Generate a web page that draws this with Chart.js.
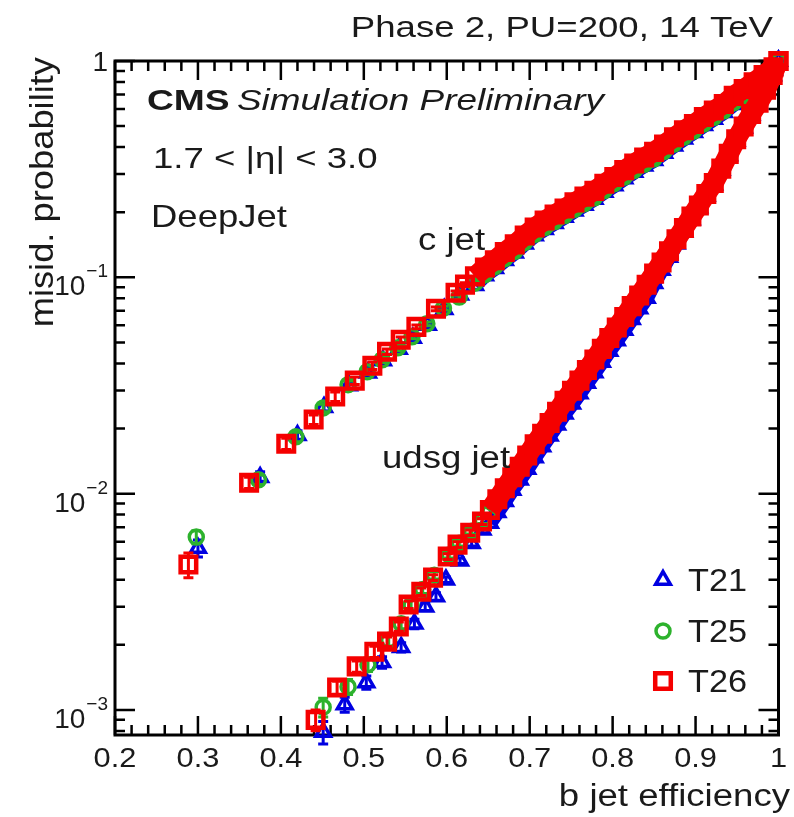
<!DOCTYPE html>
<html>
<head>
<title>b tag misid vs efficiency</title>
<script src="https://cdn.jsdelivr.net/npm/chart.js@4.4.0/dist/chart.umd.min.js"></script>
<style>
body { margin: 0; background: #fff; }
#wrap { width: 794px; height: 817px; }
</style>
</head>
<body>
<div id="wrap"><canvas id="roc" width="794" height="817"></canvas></div>
<script>
// axis ticks
const xTicks = [0.2, 0.3, 0.4, 0.5, 0.6, 0.7, 0.8, 0.9, 1.0];
const xTickLabels = ['0.2', '0.3', '0.4', '0.5', '0.6', '0.7', '0.8', '0.9', '1'];
const yTicks = [1e-3, 1e-2, 1e-1, 1];
const yTickExp = ['\u22123', '\u22122', '\u22121', ''];
const seriesNames = ['T21', 'T25', 'T26'];

// c jet - low efficiency points (with errors)
const cEff_T21 = [0.300, 0.375, 0.420, 0.452, 0.482, 0.505, 0.523, 0.542, 0.559, 0.577, 0.597, 0.616];
const cMis_T21 = [0.0056, 0.0119, 0.0186, 0.0251, 0.0316, 0.0362, 0.0412, 0.0466, 0.0524, 0.0602, 0.0712, 0.0830];
const cErr_T21 = [0.09, 0.06, 0.05, 0.04, 0.04, 0.03, 0.03, 0.03, 0.02, 0.02, 0.02, 0.02];
const cEff_T25 = [0.298, 0.373, 0.418, 0.451, 0.481, 0.504, 0.522, 0.541, 0.558, 0.576, 0.596, 0.615];
const cMis_T25 = [0.0063, 0.0116, 0.0183, 0.0249, 0.0319, 0.0366, 0.0416, 0.0472, 0.0531, 0.0610, 0.0720, 0.0810];
const cErr_T25 = [0.07, 0.05, 0.05, 0.04, 0.04, 0.03, 0.03, 0.03, 0.02, 0.02, 0.02, 0.02];
const cEff_T26 = [0.2885, 0.3617, 0.4065, 0.4395, 0.4655, 0.4891, 0.5103, 0.5280, 0.5445, 0.5634, 0.5870, 0.6106, 0.6220];
const cMis_T26 = [0.0047, 0.01124, 0.0170, 0.0220, 0.0281, 0.0333, 0.0390, 0.0453, 0.0514, 0.0590, 0.0715, 0.0848, 0.0925];
const cErr_T26 = [0.13, 0.06, 0.06, 0.05, 0.05, 0.04, 0.04, 0.03, 0.03, 0.02, 0.02, 0.02, 0.02];

// c jet - dense part
const cEffDense = [0.634, 0.646, 0.658, 0.670, 0.682, 0.694, 0.706, 0.718, 0.730, 0.742, 0.754, 0.766, 0.778, 0.790, 0.802, 0.814,
                   0.826, 0.838, 0.850, 0.862, 0.874, 0.886, 0.898, 0.910, 0.922, 0.934, 0.946, 0.958, 0.970, 0.982, 0.994, 1.000];
const cDense_T21 = [0.092, 0.102, 0.110, 0.120, 0.130, 0.143, 0.156, 0.167, 0.178, 0.190, 0.203, 0.216, 0.230, 0.248, 0.266, 0.286,
                    0.307, 0.328, 0.348, 0.376, 0.406, 0.437, 0.468, 0.504, 0.540, 0.579, 0.631, 0.679, 0.740, 0.820, 0.910, 1.0];
const cDense_T25 = [0.094, 0.103, 0.112, 0.122, 0.132, 0.145, 0.158, 0.170, 0.181, 0.193, 0.206, 0.219, 0.233, 0.252, 0.271, 0.291,
                    0.312, 0.333, 0.353, 0.382, 0.413, 0.445, 0.475, 0.512, 0.549, 0.589, 0.642, 0.690, 0.750, 0.830, 0.920, 1.0];
const cDense_T26 = [0.101, 0.111, 0.120, 0.131, 0.142, 0.156, 0.170, 0.183, 0.195, 0.208, 0.222, 0.236, 0.251, 0.271, 0.291, 0.313,
                    0.336, 0.358, 0.380, 0.411, 0.444, 0.478, 0.511, 0.551, 0.590, 0.633, 0.690, 0.742, 0.797, 0.862, 0.935, 1.0];

// udsg jet - low efficiency points (with errors)
const uEff_T21 = [0.451, 0.477, 0.503, 0.522, 0.545, 0.561, 0.574, 0.587, 0.599, 0.616, 0.630, 0.643];
const uMis_T21 = [0.00079, 0.00106, 0.00134, 0.00166, 0.00195, 0.00250, 0.00300, 0.00335, 0.00400, 0.00490, 0.00590, 0.00680];
const uErr_T21 = [0.12, 0.08, 0.07, 0.06, 0.05, 0.05, 0.04, 0.04, 0.03, 0.03, 0.03, 0.03];
const uEff_T25 = [0.451, 0.481, 0.505, 0.530, 0.545, 0.557, 0.571, 0.585, 0.603, 0.615, 0.630, 0.643];
const uMis_T25 = [0.00103, 0.00128, 0.00162, 0.00210, 0.00250, 0.00305, 0.00360, 0.00420, 0.00520, 0.00590, 0.00670, 0.00750];
const uErr_T25 = [0.10, 0.08, 0.07, 0.06, 0.05, 0.05, 0.04, 0.04, 0.03, 0.03, 0.03, 0.03];
const uEff_T26 = [0.4419, 0.4678, 0.4914, 0.5127, 0.5280, 0.5422, 0.5540, 0.5693, 0.5835, 0.6012, 0.6130, 0.6283, 0.6425];
const uMis_T26 = [0.00090, 0.00127, 0.00159, 0.00186, 0.00207, 0.00243, 0.00307, 0.00352, 0.00409, 0.00512, 0.00581, 0.00660, 0.00743];
const uErr_T26 = [0.11, 0.07, 0.06, 0.06, 0.05, 0.05, 0.04, 0.04, 0.03, 0.03, 0.03, 0.03, 0.03];

// udsg jet - dense part
const uEffDense = [0.652, 0.661, 0.670, 0.679, 0.688, 0.697, 0.706, 0.715, 0.724, 0.733, 0.742, 0.751, 0.760, 0.769, 0.778, 0.787,
                   0.796, 0.805, 0.814, 0.823, 0.832, 0.841, 0.850, 0.859, 0.868, 0.877, 0.886, 0.895, 0.904, 0.913, 0.922, 0.931,
                   0.940, 0.949, 0.958, 0.967, 0.976, 0.985, 0.993, 1.000];
const uDense_T21 = [0.00732, 0.00820, 0.00922, 0.0104, 0.0116, 0.0130, 0.0147, 0.0165, 0.0185, 0.0208, 0.0234, 0.0260, 0.0290, 0.0325, 0.0363, 0.0406,
                    0.0456, 0.0510, 0.0571, 0.0640, 0.0717, 0.0803, 0.094, 0.108, 0.124, 0.143, 0.163, 0.185, 0.210, 0.238, 0.268, 0.313,
                    0.366, 0.428, 0.492, 0.564, 0.636, 0.732, 0.858, 1.0];
const uDense_T25 = [0.00825, 0.00925, 0.0104, 0.0117, 0.0131, 0.0147, 0.0166, 0.0185, 0.0208, 0.0234, 0.0264, 0.0293, 0.0327, 0.0366, 0.0409, 0.0458,
                    0.0514, 0.0574, 0.0643, 0.0721, 0.0808, 0.0905, 0.102, 0.115, 0.129, 0.147, 0.166, 0.187, 0.211, 0.238, 0.268, 0.312,
                    0.365, 0.427, 0.490, 0.561, 0.634, 0.730, 0.856, 1.0];
const uDense_T26 = [0.00841, 0.00942, 0.0106, 0.0119, 0.0133, 0.0150, 0.0169, 0.0189, 0.0212, 0.0239, 0.0269, 0.0299, 0.0333, 0.0373, 0.0417, 0.0467,
                    0.0524, 0.0586, 0.0656, 0.0736, 0.0824, 0.0923, 0.104, 0.117, 0.132, 0.150, 0.169, 0.191, 0.215, 0.243, 0.273, 0.318,
                    0.372, 0.435, 0.498, 0.569, 0.641, 0.736, 0.861, 1.0];

const style = {
  T21: { color: 'rgb(0,0,225)', shape: 'triangle', r: 8.5, bw: 3.5, band: 15, order: 3 },
  T25: { color: 'rgb(45,178,45)', shape: 'circle', r: 7, bw: 3.5, band: 15, order: 2 },
  T26: { color: 'rgb(245,0,0)', shape: 'rect', r: 11, bw: 4.5, band: 20, order: 1 }
};

function pts(eff, mis) {
  return eff.map((e, i) => ({ x: e, y: mis[i] }));
}

// sparse points are drawn as markers only, the dense tail is joined by a thick band
function mkSet(name, label, eff, mis, err, nSparse) {
  const s = style[name];
  return {
    label: label,
    data: pts(eff, mis),
    errors: err,
    order: s.order,
    showLine: true,
    borderWidth: s.band,
    borderColor: s.color,
    segment: {
      borderColor: c => (c.p0DataIndex >= nSparse ? s.color : 'rgba(0,0,0,0)')
    },
    clip: false,
    pointStyle: s.shape,
    pointRadius: s.r,
    pointBorderWidth: s.bw,
    pointBorderColor: s.color,
    pointBackgroundColor: 'rgba(0,0,0,0)'
  };
}

const datasets = [
  mkSet('T26', 'T26 c', cEff_T26.concat(cEffDense), cMis_T26.concat(cDense_T26), cErr_T26, cEff_T26.length),
  mkSet('T26', 'T26 udsg', uEff_T26.concat(uEffDense), uMis_T26.concat(uDense_T26), uErr_T26, uEff_T26.length),
  mkSet('T25', 'T25 c', cEff_T25.concat(cEffDense), cMis_T25.concat(cDense_T25), cErr_T25, cEff_T25.length),
  mkSet('T25', 'T25 udsg', uEff_T25.concat(uEffDense), uMis_T25.concat(uDense_T25), uErr_T25, uEff_T25.length),
  mkSet('T21', 'T21 c', cEff_T21.concat(cEffDense), cMis_T21.concat(cDense_T21), cErr_T21, cEff_T21.length),
  mkSet('T21', 'T21 udsg', uEff_T21.concat(uEffDense), uMis_T21.concat(uDense_T21), uErr_T21, uEff_T21.length)
];

const FONT = '"Liberation Sans", Arial, Helvetica, sans-serif';
const INK = '#1a1a1a';

function txt(ctx, s, x, y, font, align, sx) {
  ctx.save();
  ctx.font = font;
  ctx.fillStyle = INK;
  ctx.textAlign = align || 'left';
  ctx.textBaseline = 'alphabetic';
  ctx.translate(x, y);
  ctx.scale(sx || 1, 1);
  ctx.fillText(s, 0, 0);
  ctx.restore();
}

function marker(ctx, name, x, y) {
  const s = style[name];
  ctx.save();
  ctx.strokeStyle = s.color;
  ctx.lineWidth = s.bw;
  ctx.beginPath();
  if (s.shape === 'rect') {
    const h = s.r * Math.SQRT1_2;
    ctx.rect(x - h, y - h, 2 * h, 2 * h);
  } else if (s.shape === 'circle') {
    ctx.arc(x, y, s.r, 0, Math.PI * 2);
  } else {
    ctx.moveTo(x, y - s.r);
    ctx.lineTo(x + 0.866 * s.r, y + 0.5 * s.r);
    ctx.lineTo(x - 0.866 * s.r, y + 0.5 * s.r);
    ctx.closePath();
  }
  ctx.stroke();
  ctx.restore();
}

const deco = {
  id: 'deco',
  beforeDatasetsDraw(chart) {
    const ctx = chart.ctx, a = chart.chartArea;
    const xs = chart.scales.x, ys = chart.scales.y;
    ctx.save();
    ctx.strokeStyle = '#000';
    // x ticks, bottom and top, pointing inward
    ctx.lineWidth = 2.5;
    for (let i = 0; i <= 40; i++) {
      const px = xs.getPixelForValue(0.2 + i * 0.02);
      const len = i % 5 === 0 ? 19 : 10;
      ctx.beginPath();
      ctx.moveTo(px, a.bottom); ctx.lineTo(px, a.bottom - len);
      ctx.moveTo(px, a.top); ctx.lineTo(px, a.top + len);
      ctx.stroke();
    }
    // y ticks, left and right
    for (let d = -4; d <= 0; d++) {
      for (let m = 1; m <= 9; m++) {
        const v = m * Math.pow(10, d);
        if (v < ys.min || v > ys.max * 1.0001) continue;
        const py = ys.getPixelForValue(v);
        const len = m === 1 ? 20 : 10;
        ctx.beginPath();
        ctx.moveTo(a.left, py); ctx.lineTo(a.left + len, py);
        ctx.moveTo(a.right, py); ctx.lineTo(a.right - len, py);
        ctx.stroke();
      }
    }
    ctx.lineWidth = 3;
    ctx.strokeRect(a.left, a.top, a.right - a.left, a.bottom - a.top);
    ctx.restore();
  },
  beforeDatasetDraw(chart, args) {
    const ds = chart.data.datasets[args.index];
    const err = ds.errors || [];
    const ctx = chart.ctx, ys = chart.scales.y;
    ctx.save();
    ctx.strokeStyle = ds.pointBorderColor;
    ctx.lineWidth = 3;
    err.forEach((e, i) => {
      const p = args.meta.data[i];
      const v = ds.data[i].y;
      const y1 = ys.getPixelForValue(v * (1 + e));
      const y2 = ys.getPixelForValue(v * (1 - e));
      ctx.beginPath();
      ctx.moveTo(p.x, y1); ctx.lineTo(p.x, y2);
      ctx.moveTo(p.x - 5, y1); ctx.lineTo(p.x + 5, y1);
      ctx.moveTo(p.x - 5, y2); ctx.lineTo(p.x + 5, y2);
      ctx.stroke();
    });
    ctx.restore();
  },
  afterDraw(chart) {
    const ctx = chart.ctx;
    const xs = chart.scales.x, ys = chart.scales.y;
    // x tick labels
    xTicks.forEach((v, i) => {
      txt(ctx, xTickLabels[i], xs.getPixelForValue(v), 767, '28px ' + FONT, 'center', 1.1);
    });
    // y tick labels with superscript exponent
    yTicks.forEach((v, i) => {
      const py = ys.getPixelForValue(v);
      if (!yTickExp[i]) {
        txt(ctx, '1', 108, py + 10, '28px ' + FONT, 'right');
        return;
      }
      ctx.font = '19px ' + FONT;
      const w = ctx.measureText(yTickExp[i]).width;
      txt(ctx, yTickExp[i], 108, py, '19px ' + FONT, 'right');
      txt(ctx, '10', 107 - w, py + 18, '28px ' + FONT, 'right');
    });
    // axis titles
    txt(ctx, 'b jet efficiency', 790, 806, '31px ' + FONT, 'right', 1.18);
    ctx.save();
    ctx.translate(53, 57);
    ctx.rotate(-Math.PI / 2);
    txt(ctx, 'misid. probability', 0, 0, '33px ' + FONT, 'right', 1.1);
    ctx.restore();
    // labels
    txt(ctx, 'Phase 2, PU=200, 14 TeV', 773, 37, '30px ' + FONT, 'right', 1.22);
    txt(ctx, 'CMS', 147, 110, 'bold 30px ' + FONT, 'left', 1.24);
    txt(ctx, 'Simulation Preliminary', 237, 110, 'italic 30px ' + FONT, 'left', 1.23);
    txt(ctx, '1.7 < |\u03b7| < 3.0', 153, 168, '30px ' + FONT, 'left', 1.22);
    txt(ctx, 'DeepJet', 151, 227, '32px ' + FONT, 'left', 1.14);
    txt(ctx, 'c jet', 418, 250, '31px ' + FONT, 'left', 1.18);
    txt(ctx, 'udsg jet', 382, 468, '31px ' + FONT, 'left', 1.18);
    // legend
    const legY = [580, 631, 681];
    seriesNames.forEach((n, i) => {
      marker(ctx, n, 663, legY[i]);
      txt(ctx, n, 688, legY[i] + 11, '32px ' + FONT, 'left', 1.07);
    });
  }
};

new Chart(document.getElementById('roc'), {
  type: 'scatter',
  data: { datasets: datasets },
  options: {
    responsive: false,
    animation: false,
    devicePixelRatio: 1,
    events: [],
    layout: { padding: { left: 115, top: 61, right: 1, bottom: 82 } },
    scales: {
      x: { type: 'linear', min: 0.2, max: 1.0, display: false },
      y: { type: 'logarithmic', min: 7.66e-4, max: 1, display: false }
    },
    plugins: { legend: { display: false }, tooltip: { enabled: false } }
  },
  plugins: [deco]
});
</script>
</body>
</html>
